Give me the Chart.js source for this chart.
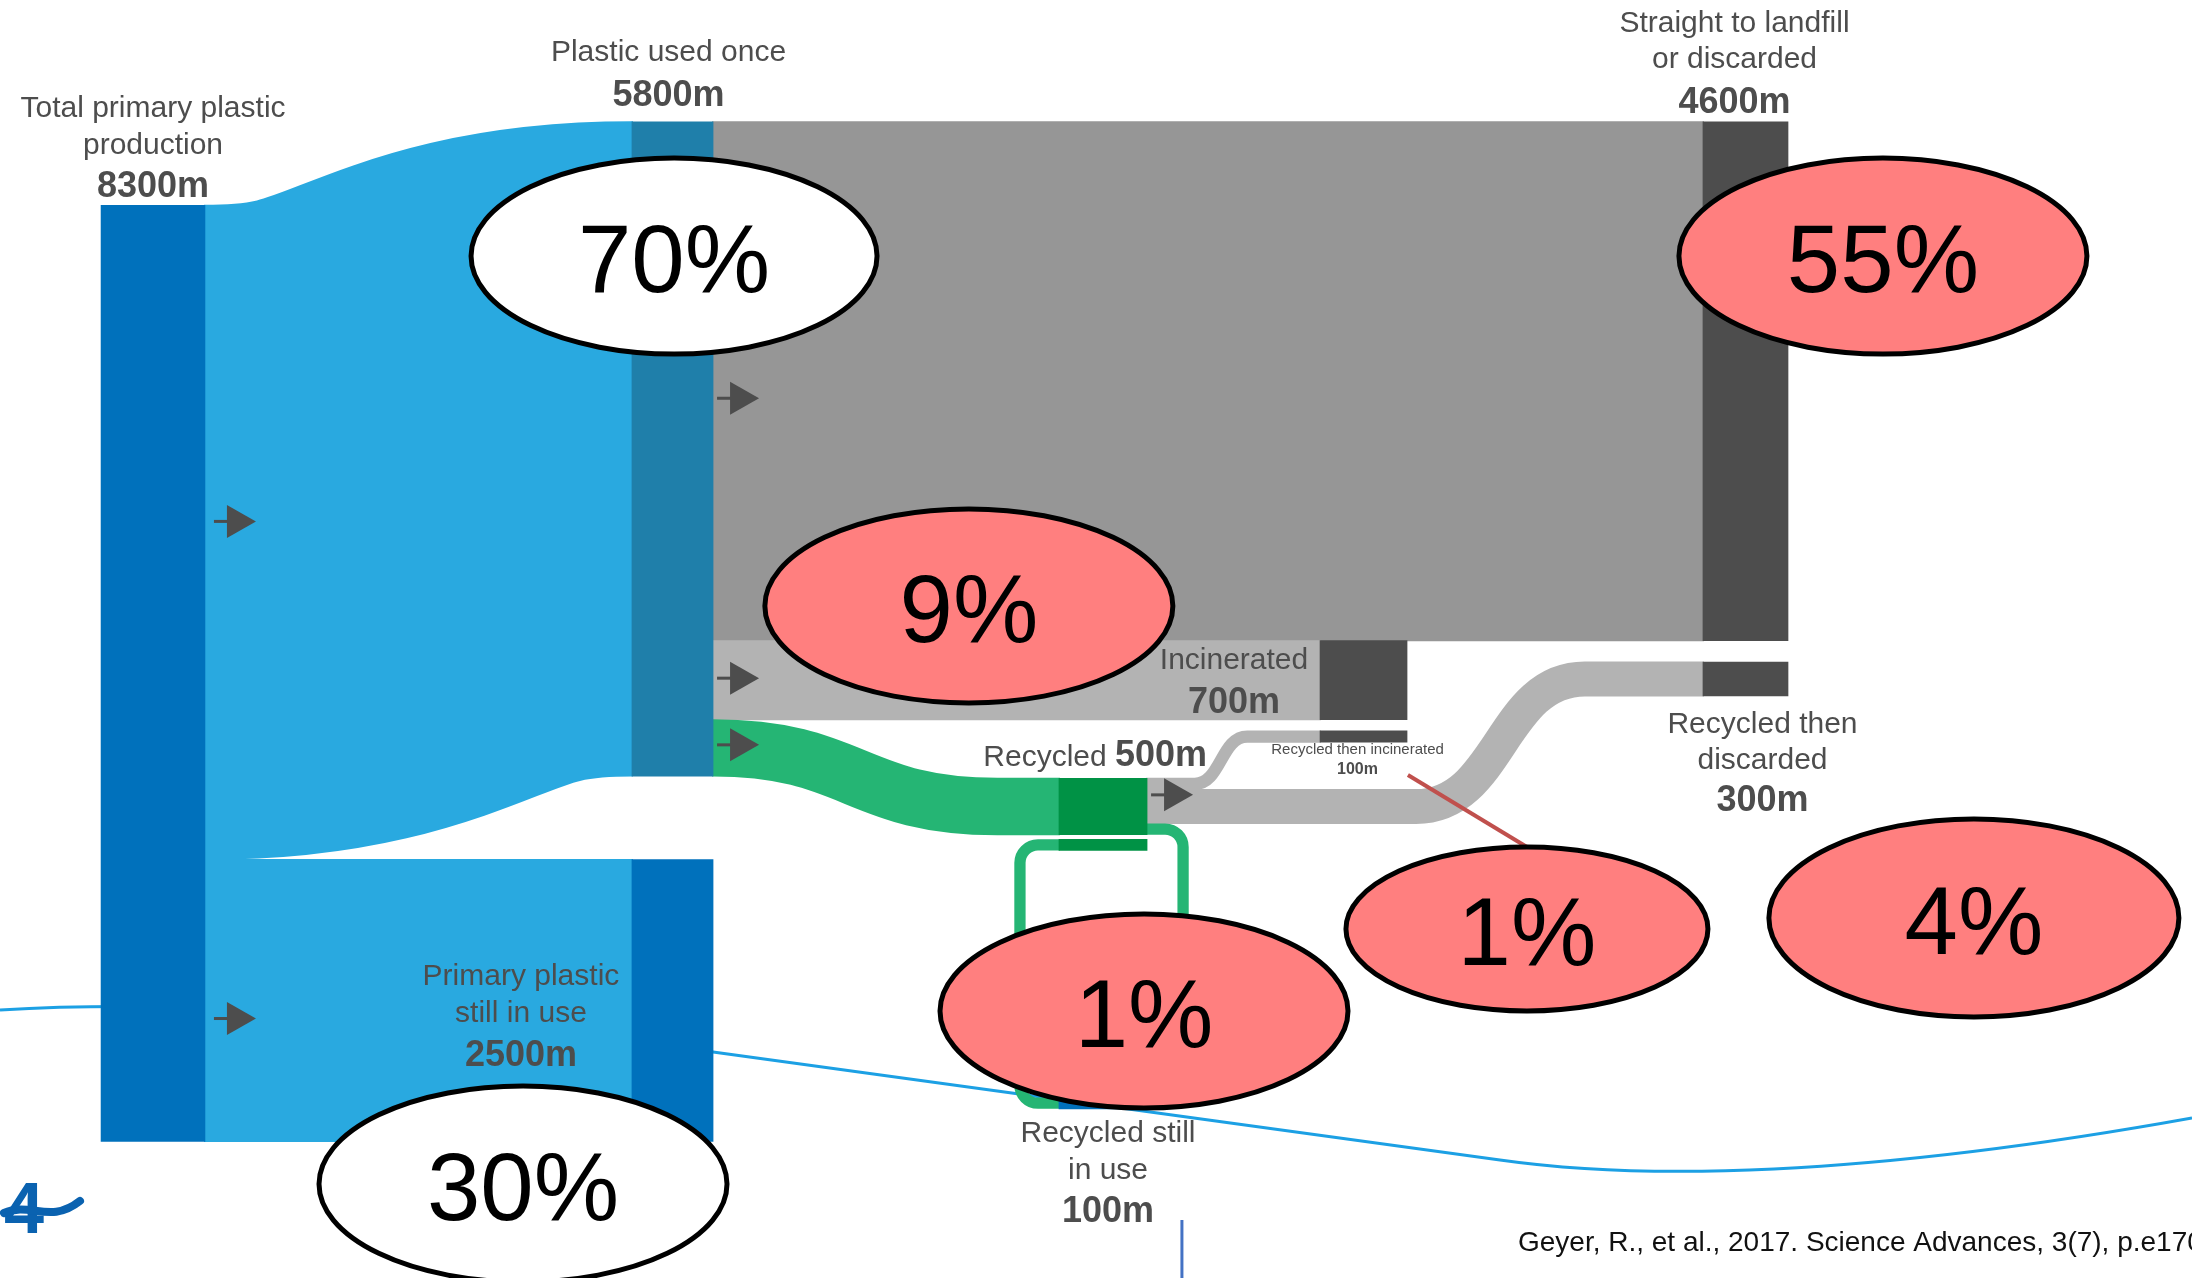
<!DOCTYPE html>
<html>
<head>
<meta charset="utf-8">
<title>Global plastic production and its fate</title>
<script src="https://cdn.jsdelivr.net/npm/chart.js@4.4.1/dist/chart.umd.min.js"></script>
<style>
html,body{margin:0;padding:0;background:#fff;overflow:hidden}
canvas{display:block}
</style>
</head>
<body>
<canvas id="chart" width="2192" height="1278" style="width:2192px;height:1278px"></canvas>
<script>
// ================= DATA =================
const nodeNames = [
  'Total primary plastic production', 'Plastic used once', 'Primary plastic still in use',
  'Straight to landfill or discarded', 'Incinerated', 'Recycled',
  'Recycled then incinerated', 'Recycled then discarded', 'Recycled still in use'
];
const nodeLabelLines = [
  ['Total primary plastic', 'production'], ['Plastic used once'], ['Primary plastic', 'still in use'],
  ['Straight to landfill', 'or discarded'], ['Incinerated'], ['Recycled'],
  ['Recycled then incinerated'], ['Recycled then', 'discarded'], ['Recycled still', 'in use']
];
const nodeValues = [8300, 5800, 2500, 4600, 700, 500, 100, 300, 100];   // million tonnes
const linkFrom   = [0, 0, 1, 1, 1, 5, 5, 5];
const linkTo     = [1, 2, 3, 4, 5, 6, 7, 8];
const linkValues = [5800, 2500, 4600, 700, 500, 100, 300, 100];
const shareLabels = ['70%', '55%', '9%', '30%', '1%', '1%', '4%'];
const citation = 'Geyer, R., et al., 2017. Science Advances, 3(7), p.e1700782.';

// ================= LAYOUT / STYLE =================
const FONT = '"Liberation Sans", Arial, Helvetica, sans-serif';
const TXT = '#4d4d4d';
// column extents in x-scale units (0..100) and node tops in y-scale units (million tonnes)
const nodeX = [[4.61, 9.35], [28.83, 32.53], [28.83, 32.53], [77.69, 81.57], [60.22, 64.19],
               [48.31, 52.33], [60.22, 64.19], [77.69, 81.57], [48.31, 52.33]];
const nodeTop = [740, 0, 6540, 0, 4600, 5820, 5400, 4790, 8650];
const loopBackTop = 6360;
const nodeColors = ['#0071BC', '#1F7FAA', '#0071BC', '#4D4D4D', '#4D4D4D', '#009245', '#4D4D4D', '#4D4D4D', '#0071BC'];
const linkColors = ['#29A9E0', '#29A9E0', '#969696', '#B3B3B3', '#25B574', '#B3B3B3', '#B3B3B3', '#25B574'];
const linkCurve = [null, null, null, null, [32.53, 45.5], [54.5, 56.9], [64.6, 72.3], null];
const arrowGroups = [[0], [1], [2], [3], [4], [5, 6]];
const arrowDx = [9, 9, 4, 4, 4, 4];
const arrowDy = [-11, 18, 17, -2, -3, -6];
const labelLayout = [
  {ref: 't', ax: 'c', dx: 0,   base: [-88, -51], vbase: -8},
  {ref: 't', ax: 'c', dx: -4,  base: [-61],      vbase: -16},
  {ref: 't', ax: 'l', dx: -111, base: [125, 162], vbase: 206},
  {ref: 't', ax: 'c', dx: -11, base: [-90, -54], vbase: -9},
  {ref: 't', ax: 'l', dx: -86, base: [28],       vbase: 72},
  {ref: 't', ax: 'inline', dx: 60, base: [-12]},
  {ref: 'b', ax: 'c', dx: -6,  base: [12],       vbase: 32, small: true},
  {ref: 'b', ax: 'c', dx: 17,  base: [37, 73],   vbase: 115},
  {ref: 'b', ax: 'c', dx: 5,   base: [33, 70],   vbase: 113}
];
const shareAnno = [
  {x: 30.75, y: 1190, rx: 203, ry: 98, fill: '#FFFFFF'},
  {x: 85.90, y: 1190, rx: 204, ry: 98, fill: '#FF7F7F'},
  {x: 44.20, y: 4292, rx: 204, ry: 97, fill: '#FF7F7F'},
  {x: 23.86, y: 9417, rx: 204, ry: 98, fill: '#FFFFFF'},
  {x: 52.19, y: 7883, rx: 204, ry: 97, fill: '#FF7F7F'},
  {x: 69.66, y: 7156, rx: 181, ry: 82, fill: '#FF7F7F'},
  {x: 90.05, y: 7058, rx: 205, ry: 99, fill: '#FF7F7F'}
];
const leaderStart = [64.23, 5791];   // leader line to the small "1%" bubble
const decorCurve = {start: [0, 7874], segs: [
  ['C', 9.12, 7768, 22.81, 7963, 32.53, 8246],
  ['L', 68.43, 9204],
  ['C', 74.82, 9381, 84.85, 9363, 100, 8832]
]};

// ================= GEOMETRY =================
const outOff = nodeValues.map(() => 0), inOff = nodeValues.map(() => 0);
const linkGeom = linkValues.map((v, k) => {
  const s = linkFrom[k], t = linkTo[k];
  const g = {s, t, v, so: outOff[s], to: inOff[t]};
  outOff[s] += v; inOff[t] += v;
  return g;
});

function P(chart, xu, yu) { return [chart.scales.x.getPixelForValue(xu), chart.scales.y.getPixelForValue(yu)]; }
function box(chart, i) {
  const xs = chart.scales.x, ys = chart.scales.y;
  return {l: xs.getPixelForValue(nodeX[i][0]), r: xs.getPixelForValue(nodeX[i][1]),
          t: ys.getPixelForValue(nodeTop[i]), b: ys.getPixelForValue(nodeTop[i] + nodeValues[i])};
}

// node bars (floating bars on the library's scales)
const datasets = nodeNames.map((name, i) => ({
  label: name,
  data: [{x: (nodeX[i][0] + nodeX[i][1]) / 2, y: [nodeTop[i], nodeTop[i] + nodeValues[i]]}],
  backgroundColor: nodeColors[i],
  barThickness: (nodeX[i][1] - nodeX[i][0]) / 100 * 2192,
  stack: 'nodes', borderWidth: 0
}));
const loopIdx = linkGeom.findIndex(g => nodeX[g.t][0] <= nodeX[g.s][0]);
datasets.push({
  label: 'Recycled (re-entering)',
  data: [{x: (nodeX[5][0] + nodeX[5][1]) / 2, y: [loopBackTop, loopBackTop + linkValues[loopIdx]]}],
  backgroundColor: nodeColors[5],
  barThickness: (nodeX[5][1] - nodeX[5][0]) / 100 * 2192,
  stack: 'nodes', borderWidth: 0
});

const sankeyPlugin = {
  id: 'sankeyFlows',
  beforeDraw(chart) {
    const ctx = chart.ctx;
    ctx.save();
    ctx.fillStyle = '#fff';
    ctx.fillRect(0, 0, chart.width, chart.height);
    // template swoosh
    ctx.beginPath();
    let p = P(chart, decorCurve.start[0], decorCurve.start[1]);
    ctx.moveTo(p[0], p[1]);
    decorCurve.segs.forEach(s => {
      if (s[0] === 'L') { p = P(chart, s[1], s[2]); ctx.lineTo(p[0], p[1]); }
      else {
        const a = P(chart, s[1], s[2]), b = P(chart, s[3], s[4]), c = P(chart, s[5], s[6]);
        ctx.bezierCurveTo(a[0], a[1], b[0], b[1], c[0], c[1]);
      }
    });
    ctx.strokeStyle = '#1CA0E4'; ctx.lineWidth = 3; ctx.stroke();
    ctx.restore();
  },
  beforeDatasetsDraw(chart) {
    const ctx = chart.ctx, xs = chart.scales.x, ys = chart.scales.y;
    ctx.save();
    ctx.lineCap = 'butt';
    linkGeom.forEach((g, k) => {
      const w = Math.abs(ys.getPixelForValue(g.v) - ys.getPixelForValue(0));
      const sy = ys.getPixelForValue(nodeTop[g.s] + g.so + g.v / 2);
      const ty = ys.getPixelForValue(nodeTop[g.t] + g.to + g.v / 2);
      ctx.strokeStyle = linkColors[k];
      ctx.beginPath();
      if (k === loopIdx) {
        const S = box(chart, g.s), T = box(chart, g.t);
        const yBack = ys.getPixelForValue(loopBackTop + g.v / 2);
        const xr = S.r + 36, xl = S.l - 39, r = 18;
        ctx.lineWidth = w;
        ctx.lineJoin = 'round';
        ctx.moveTo(S.r - 1, sy);
        ctx.arcTo(xr, sy, xr, ty, r);
        ctx.arcTo(xr, ty, T.r, ty, r);
        ctx.lineTo(T.r - 1, ty);
        ctx.moveTo(T.l + 1, ty);
        ctx.arcTo(xl, ty, xl, yBack, r);
        ctx.arcTo(xl, yBack, S.l, yBack, r);
        ctx.lineTo(S.l + 1, yBack);
        ctx.stroke();
        return;
      }
      const sx = xs.getPixelForValue(nodeX[g.s][1]);
      const tx = xs.getPixelForValue(nodeX[g.t][0]);
      const cx0 = linkCurve[k] ? xs.getPixelForValue(linkCurve[k][0]) : sx;
      const cx1 = linkCurve[k] ? xs.getPixelForValue(linkCurve[k][1]) : tx;
      const mx = (cx0 + cx1) / 2;
      ctx.lineWidth = w + 1;   // slight overlap hides anti-aliasing seams between adjacent flows
      ctx.moveTo(sx - 1, sy);
      ctx.lineTo(cx0, sy);
      ctx.bezierCurveTo(mx, sy, mx, ty, cx1, ty);
      ctx.lineTo(tx + 1, ty);
      ctx.stroke();
    });
    ctx.restore();
  },
  afterDatasetsDraw(chart) {
    const ctx = chart.ctx, xs = chart.scales.x, ys = chart.scales.y;
    ctx.save();
    // flow arrows
    ctx.fillStyle = '#4d4d4d';
    arrowGroups.forEach((grp, i) => {
      const g0 = linkGeom[grp[0]];
      const tot = grp.reduce((a, k) => a + linkGeom[k].v, 0);
      const cy = ys.getPixelForValue(nodeTop[g0.s] + g0.so + tot / 2) + arrowDy[i];
      const x = xs.getPixelForValue(nodeX[g0.s][1]) + arrowDx[i];
      ctx.fillRect(x, cy - 1.5, 16, 3);
      ctx.beginPath();
      ctx.moveTo(x + 13, cy - 16.5); ctx.lineTo(x + 42, cy); ctx.lineTo(x + 13, cy + 16.5);
      ctx.closePath(); ctx.fill();
    });
    // node labels
    ctx.fillStyle = TXT;
    ctx.textBaseline = 'alphabetic';
    labelLayout.forEach((L, i) => {
      const B = box(chart, i);
      const refY = L.ref === 't' ? B.t : B.b;
      const valueText = nodeValues[i] + 'm';
      if (L.ax === 'inline') {
        const xr = B.r + L.dx, yb = refY + L.base[0];
        ctx.textAlign = 'right';
        ctx.font = 'bold 36px ' + FONT;
        ctx.fillText(valueText, xr, yb);
        const vw = ctx.measureText(valueText).width;
        ctx.font = '30px ' + FONT;
        ctx.fillText(nodeLabelLines[i][0] + ' ', xr - vw, yb);
        return;
      }
      const x = (L.ax === 'c' ? (B.l + B.r) / 2 : B.l) + L.dx;
      ctx.textAlign = 'center';
      ctx.font = (L.small ? '15px ' : '30px ') + FONT;
      nodeLabelLines[i].forEach((line, j) => ctx.fillText(line, x, refY + L.base[j]));
      ctx.font = (L.small ? 'bold 16px ' : 'bold 36px ') + FONT;
      ctx.fillText(valueText, x, refY + L.vbase);
    });
    ctx.restore();
  },
  afterDraw(chart) {
    const ctx = chart.ctx;
    ctx.save();
    // leader line
    const a = P(chart, leaderStart[0], leaderStart[1]);
    const tgt = shareAnno[5];
    const e = P(chart, tgt.x, tgt.y);
    ctx.beginPath(); ctx.moveTo(a[0], a[1]); ctx.lineTo(e[0], e[1] - tgt.ry);
    ctx.strokeStyle = '#C0504D'; ctx.lineWidth = 4; ctx.stroke();
    // share bubbles
    shareAnno.forEach((s, i) => {
      const c = P(chart, s.x, s.y);
      ctx.beginPath();
      ctx.ellipse(c[0], c[1], s.rx, s.ry, 0, 0, Math.PI * 2);
      ctx.fillStyle = s.fill; ctx.fill();
      ctx.lineWidth = 5; ctx.strokeStyle = '#000'; ctx.stroke();
      ctx.fillStyle = '#000';
      ctx.font = '96px ' + FONT;
      ctx.textAlign = 'center'; ctx.textBaseline = 'alphabetic';
      ctx.fillText(shareLabels[i], c[0], c[1] + 36);
    });
    // source
    const cp = P(chart, 69.25, 10010);
    ctx.fillStyle = '#111'; ctx.font = '28px ' + FONT; ctx.textAlign = 'left';
    ctx.fillText(citation, cp[0], cp[1]);
    // slide decorations: small vertical rule and logo fragment
    const v0 = P(chart, 53.92, 9736), v1 = P(chart, 53.92, 10250);
    ctx.beginPath(); ctx.moveTo(v0[0], v0[1]); ctx.lineTo(v1[0], v1[1]);
    ctx.strokeStyle = '#4472C4'; ctx.lineWidth = 3; ctx.stroke();
    const lg = P(chart, 0, 9851);
    ctx.fillStyle = '#0A62B0'; ctx.font = 'bold 72px ' + FONT; ctx.textAlign = 'left';
    ctx.fillText('4', lg[0] + 4, lg[1]);
    ctx.beginPath(); ctx.moveTo(lg[0] + 4, lg[1] - 20);
    ctx.bezierCurveTo(lg[0] + 30, lg[1] - 32, lg[0] + 50, lg[1] - 8, lg[0] + 80, lg[1] - 32);
    ctx.strokeStyle = '#0A62B0'; ctx.lineWidth = 8; ctx.lineCap = 'round'; ctx.stroke();
    ctx.restore();
  }
};

new Chart(document.getElementById('chart').getContext('2d'), {
  type: 'bar',
  data: {datasets},
  options: {
    responsive: false, animation: false, devicePixelRatio: 1, events: [],
    layout: {padding: 0},
    plugins: {legend: {display: false}, tooltip: {enabled: false}, title: {display: false}},
    scales: {
      x: {type: 'linear', min: 0, max: 100, display: false, offset: false},
      y: {type: 'linear', min: -1080, max: 10250, reverse: true, display: false, stacked: false}
    }
  },
  plugins: [sankeyPlugin]
});
</script>
</body>
</html>
